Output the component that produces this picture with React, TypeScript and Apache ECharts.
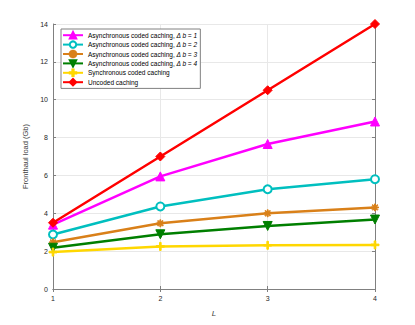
import React, { useEffect, useRef } from "react";
import * as echarts from "echarts";

const xValues = [1, 2, 3, 4];
const async1 = [3.4, 5.95, 7.66, 8.85];
const async2 = [2.88, 4.36, 5.27, 5.8];
const async3 = [2.47, 3.47, 4.0, 4.31];
const async4 = [2.18, 2.89, 3.33, 3.67];
const syncCoded = [1.95, 2.25, 2.31, 2.33];
const uncoded = [3.5, 7.0, 10.5, 14.0];

const seriesNames = [
  "Asynchronous coded caching, Δ b = 1",
  "Asynchronous coded caching, Δ b = 2",
  "Asynchronous coded caching, Δ b = 3",
  "Asynchronous coded caching, Δ b = 4",
  "Synchronous coded caching",
  "Uncoded caching",
];

const PLUS = "path://M4,0H6V4H10V6H6V10H4V6H0V4H4Z";
const STAR =
  "path://M4.3,0H5.7V3.3L8.1,0.9L9.1,1.9L6.7,4.3H10V5.7H6.7L9.1,8.1L8.1,9.1L5.7,6.7V10H4.3V6.7L1.9,9.1L0.9,8.1L3.3,5.7H0V4.3H3.3L0.9,1.9L1.9,0.9L4.3,3.3Z";

export default function App() {
  const ref = useRef<HTMLDivElement>(null);
  useEffect(() => {
    if (!ref.current) return;
    const chart = echarts.init(ref.current, null, { renderer: "svg" });
    const font = "Liberation Sans";
    const mk = (
      name: string,
      data: number[],
      color: string,
      symbol: string,
      symbolSize: number,
      extra: any = {}
    ) => ({
      name,
      type: "line",
      data: xValues.map((x, i) => [x, data[i]]),
      symbol,
      symbolSize,
      showSymbol: true,
      lineStyle: { color, width: 2.5 },
      itemStyle: { color, borderColor: color, borderWidth: 1 },
      ...extra,
    });
    const axisCommon = {
      axisLine: { show: true, lineStyle: { color: "#808080", width: 1 } },
      axisTick: { show: true, inside: true, length: 3, lineStyle: { color: "#808080" } },
    };
    chart.setOption({
      animation: false,
      backgroundColor: "#ffffff",
      textStyle: { fontFamily: font },
      grid: { left: 53, right: 40, top: 24, bottom: 36, containLabel: false },
      legend: {
        orient: "vertical",
        left: 61,
        top: 29,
        itemWidth: 20,
        itemHeight: 8,
        itemGap: 1,
        padding: [2, 3, 2, 1],
        borderColor: "#808080",
        borderWidth: 1,
        backgroundColor: "#ffffff",
        data: seriesNames,
        formatter: (name: string) => {
          const idx = name.indexOf("Δ");
          if (idx >= 0) {
            return `{n|${name.slice(0, idx)}}{i|${name.slice(idx)}}`;
          }
          return `{n|${name}}`;
        },
        textStyle: {
          fontSize: 6.5,
          color: "#000",
          fontFamily: font,
          rich: {
            n: { fontSize: 6.5, color: "#000", fontFamily: font },
            i: { fontSize: 6.5, color: "#000", fontFamily: font, fontStyle: "italic" },
          },
        },
      },
      xAxis: [
        {
          type: "value",
          min: 1,
          max: 4,
          interval: 1,
          name: "L",
          nameLocation: "middle",
          nameGap: 20,
          nameTextStyle: { fontSize: 8, fontStyle: "italic", color: "#404040", fontFamily: font },
          axisLabel: { fontSize: 7, color: "#262626", margin: 6 },
          splitLine: { show: true, lineStyle: { color: "#e8e8e8", width: 1 } },
          ...axisCommon,
        },
        {
          type: "value",
          position: "top",
          min: 1,
          max: 4,
          interval: 1,
          axisLabel: { show: false },
          splitLine: { show: false },
          ...axisCommon,
        },
      ],
      yAxis: [
        {
          type: "value",
          min: 0,
          max: 14,
          interval: 2,
          name: "Fronthaul load (Gb)",
          nameLocation: "middle",
          nameGap: 17,
          nameTextStyle: { fontSize: 7.5, color: "#404040", fontFamily: font },
          axisLabel: { fontSize: 7, color: "#262626", margin: 5 },
          splitLine: { show: true, lineStyle: { color: "#e8e8e8", width: 1 } },
          ...axisCommon,
        },
        {
          type: "value",
          position: "right",
          min: 0,
          max: 14,
          interval: 2,
          axisLabel: { show: false },
          splitLine: { show: false },
          ...axisCommon,
        },
      ],
      series: [
        mk(seriesNames[0], async1, "#ff00ff", "triangle", 9),
        mk(seriesNames[1], async2, "#00bfbf", "emptyCircle", 8, {
          itemStyle: { color: "#00bfbf", borderColor: "#00bfbf", borderWidth: 2 },
        }),
        mk(seriesNames[2], async3, "#d98019", STAR, 7),
        mk(seriesNames[3], async4, "#007f00", "triangle", 9, { symbolRotate: 180 }),
        mk(seriesNames[4], syncCoded, "#ffd700", PLUS, 8),
        mk(seriesNames[5], uncoded, "#ff0000", "diamond", 9),
      ],
    });
    return () => chart.dispose();
  }, []);
  return (
    <div
      ref={ref}
      style={{ position: "fixed", left: 0, top: 0, width: 415, height: 325 }}
    />
  );
}
